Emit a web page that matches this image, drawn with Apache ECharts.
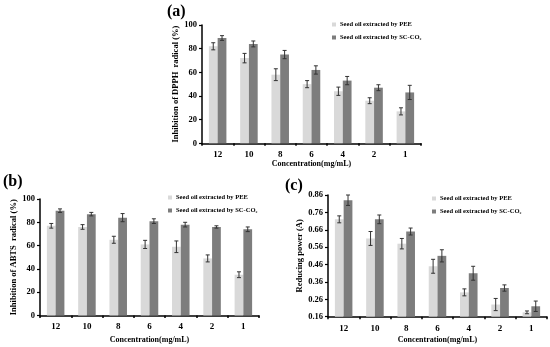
<!DOCTYPE html>
<html>
<head>
<meta charset="utf-8">
<script src="https://cdn.jsdelivr.net/npm/echarts@6/dist/echarts.min.js"></script>
<style>html,body{margin:0;padding:0;background:#fff}#c{width:550px;height:347px}</style>
</head>
<body>
<div id="c"></div>
<script>
const categories = ['12', '10', '8', '6', '4', '2', '1'];
const nPEE = 'Seed oil extracted by PEE';
const nSC = 'Seed oil extracted by SC-CO₂';

const dpphPEE = [82, 72, 58, 50, 44, 36, 27];
const dpphPEEErr = [3, 4, 5, 3, 3.5, 2.5, 3];
const dpphSC = [89, 84, 75, 62, 53, 47, 43];
const dpphSCErr = [2, 2.5, 3.5, 3.5, 3.5, 2.5, 6];

const abtsPEE = [77, 76, 65, 61, 59, 49, 35];
const abtsPEEErr = [2, 2, 3, 3.5, 5, 3, 2.5];
const abtsSC = [90, 87, 84, 81, 78, 76, 74];
const abtsSCErr = [1.5, 1.5, 3.5, 2, 2, 1, 2];

const redPEE = [0.72, 0.61, 0.58, 0.45, 0.30, 0.23, 0.185];
const redPEEErr = [0.02, 0.04, 0.03, 0.04, 0.02, 0.035, 0.008];
const redSC = [0.83, 0.72, 0.65, 0.51, 0.41, 0.325, 0.22];
const redSCErr = [0.03, 0.025, 0.02, 0.035, 0.04, 0.018, 0.03];

const FONT = "'Liberation Serif', 'Times New Roman', serif";
const cPEE = '#d9d9d9';
const cSC = '#7d7d7d';

function xAxis(gi, gap) {
  return {
    type: 'category', gridIndex: gi, data: categories,
    name: 'Concentration(mg/mL)', nameLocation: 'middle', nameGap: gap,
    nameTextStyle: { fontFamily: FONT, fontWeight: 'bold', fontSize: 8, color: '#000' },
    axisLine: { lineStyle: { color: '#000', width: 1.5 } },
    axisTick: { show: true, length: 2.5, lineStyle: { color: '#000', width: 1.5 } },
    axisLabel: { fontFamily: FONT, fontWeight: 'bold', fontSize: 9, color: '#000', margin: 7 }
  };
}
function yAxis(gi, name, min, max, interval, gap, fmt) {
  return {
    type: 'value', gridIndex: gi, min: min, max: max, interval: interval,
    name: name, nameLocation: 'middle', nameGap: gap,
    nameTextStyle: { fontFamily: FONT, fontWeight: 'bold', fontSize: 8.5, color: '#000' },
    splitLine: { show: false },
    axisLine: { show: true, lineStyle: { color: '#000', width: 1.5 } },
    axisTick: { show: true, length: 3, lineStyle: { color: '#000', width: 1.2 } },
    axisLabel: { fontFamily: FONT, fontWeight: 'bold', fontSize: 8.5, color: '#000', margin: 5,
      formatter: fmt }
  };
}
function bar(gi, name, data, color) {
  return {
    type: 'bar', name: name, xAxisIndex: gi, yAxisIndex: gi, data: data,
    barWidth: '28%', barGap: '0%', itemStyle: { color: color }, silent: true
  };
}
function err(gi, vals, errs, side) {
  return {
    type: 'custom', xAxisIndex: gi, yAxisIndex: gi, silent: true, z: 10,
    data: vals.map((v, i) => [i, v, errs[i]]),
    encode: { x: 0, y: 1 },
    renderItem: function (params, api) {
      const i = api.value(0), v = api.value(1), e = api.value(2);
      const band = api.size([1, 0])[0];
      const off = side * band * 0.14;
      const hi = api.coord([i, v + e]);
      const lo = api.coord([i, v - e]);
      const x = hi[0] + off;
      const cw = 2;
      const st = { stroke: '#333', lineWidth: 1 };
      return { type: 'group', children: [
        { type: 'line', shape: { x1: x, y1: hi[1], x2: x, y2: lo[1] }, style: st },
        { type: 'line', shape: { x1: x - cw, y1: hi[1], x2: x + cw, y2: hi[1] }, style: st },
        { type: 'line', shape: { x1: x - cw, y1: lo[1], x2: x + cw, y2: lo[1] }, style: st }
      ]};
    }
  };
}
function legend(left, top) {
  return {
    left: left, top: top, orient: 'vertical', itemWidth: 4, itemHeight: 4, itemGap: 6,
    icon: 'rect', data: [nPEE, nSC], selectedMode: false,
    textStyle: { fontFamily: FONT, fontWeight: 'bold', fontSize: 6.5, color: '#000', padding: [0, 0, 0, -1] }
  };
}
function title(text, left, top) {
  return { text: text, left: left, top: top, padding: 0,
    textStyle: { fontFamily: FONT, fontWeight: 'bold', fontSize: 16, color: '#000' } };
}

const chart = echarts.init(document.getElementById('c'), null, { renderer: 'canvas' });
chart.setOption({
  animation: false,
  backgroundColor: '#fff',
  title: [title('(a)', 167, 4), title('(b)', 3, 174), title('(c)', 285, 178)],
  legend: [legend(327, 16), legend(163, 189), legend(427, 190)],
  grid: [
    { left: 202, top: 25, width: 219, height: 118.3, outerBoundsMode: 'none', containLabel: false },
    { left: 40, top: 199, width: 219, height: 116.5, outerBoundsMode: 'none', containLabel: false },
    { left: 328, top: 195, width: 219, height: 121.7, outerBoundsMode: 'none', containLabel: false }
  ],
  xAxis: [xAxis(0, 17), xAxis(1, 20), xAxis(2, 19)],
  yAxis: [
    yAxis(0, 'Inhibition of DPPH  radical (%)', 0, 100, 20, 20, v => v),
    yAxis(1, 'Inhibition of ABTS  radical (%)', 0, 100, 20, 22, v => v),
    yAxis(2, 'Reducing power (A)', 0.16, 0.86, 0.1, 20, v => v.toFixed(2))
  ],
  series: [
    bar(0, nPEE, dpphPEE, cPEE), bar(0, nSC, dpphSC, cSC),
    bar(1, nPEE, abtsPEE, cPEE), bar(1, nSC, abtsSC, cSC),
    bar(2, nPEE, redPEE, cPEE), bar(2, nSC, redSC, cSC),
    err(0, dpphPEE, dpphPEEErr, -1), err(0, dpphSC, dpphSCErr, 1),
    err(1, abtsPEE, abtsPEEErr, -1), err(1, abtsSC, abtsSCErr, 1),
    err(2, redPEE, redPEEErr, -1), err(2, redSC, redSCErr, 1)
  ]
});
</script>
</body>
</html>
